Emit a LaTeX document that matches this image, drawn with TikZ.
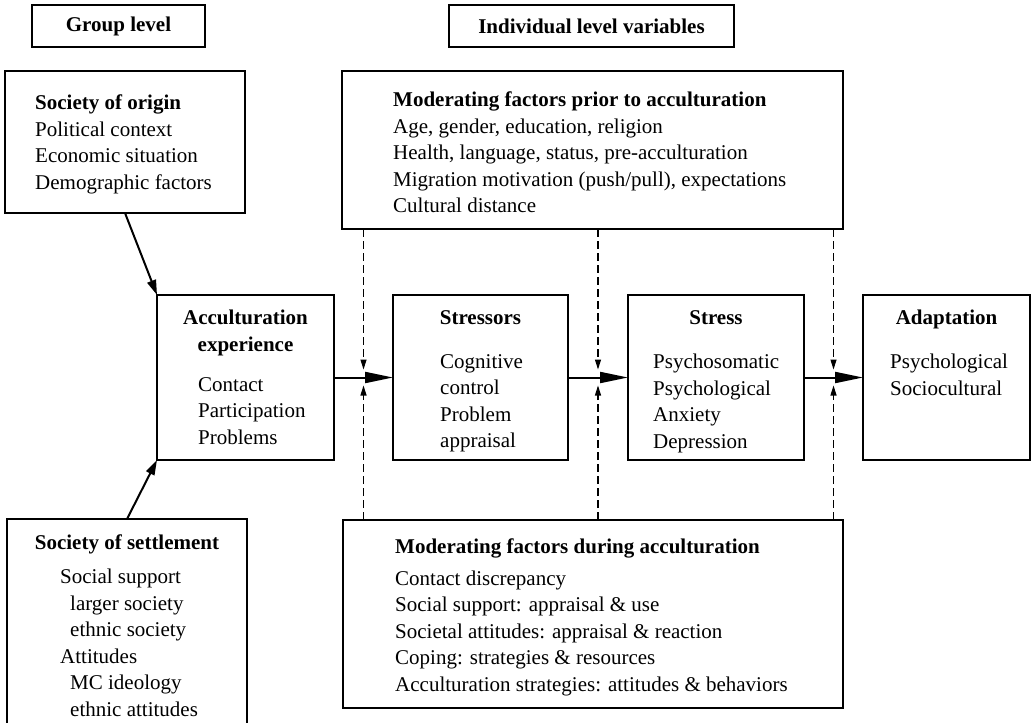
\documentclass[tikz,border=0pt]{standalone}
\usepackage{fontspec}
\setmainfont{Liberation Serif}
\usetikzlibrary{arrows.meta,positioning,calc}

\tikzset{
  box/.style={draw, line width=1.2pt, inner sep=0pt, outer sep=0pt},
  txt/.style={inner sep=0pt, align=left, font=\fontsize{21}{26.5}\selectfont},
  ttl/.style={inner sep=0pt, align=center, font=\fontsize{21}{27}\selectfont\bfseries},
  flow/.style={line width=2pt, -{Triangle[length=28pt,width=11pt]}},
  feed/.style={line width=2pt, -{Triangle[length=15pt,width=9pt]}},
  modarr/.style={line width=1.1pt, dash pattern=on 8pt off 4pt, -{Triangle[length=10pt,width=6pt]}},
}

\begin{document}
\begin{tikzpicture}[x=1pt, y=-1pt]
    \useasboundingbox (0,0) rectangle (1032,722);

    % headings
    \node[box, ttl, minimum width=173pt, minimum height=42pt] (grp) at (118.5,26) {Group level};
    \node[box, ttl, minimum width=285pt, minimum height=42pt] (indiv) at (591.5,26) {Individual level variables};

    % group level
    \node[box, minimum width=240pt, minimum height=142pt] (origin) at (125,142) {};
    \node[txt, below right=24pt and 30pt of origin.north west] (origin-t)
      {\textbf{Society of origin}\\Political context\\Economic situation\\Demographic factors};

    \node[box, minimum width=240pt, minimum height=216pt] (settle) at (127,627) {};
    \node[ttl, below=16pt of settle.north] (settle-t) {Society of settlement};
    \node[txt, below right=50pt and 53pt of settle.north west] (settle-i)
      {Social support\\\hspace*{10pt}larger society\\\hspace*{10pt}ethnic society\\Attitudes\\\hspace*{10pt}MC ideology\\\hspace*{10pt}ethnic attitudes};

    % moderators
    \node[box, minimum width=501pt, minimum height=158pt] (prior) at (592.5,150) {};
    \node[txt, below right=21pt and 51pt of prior.north west] (prior-t)
      {\textbf{Moderating factors prior to acculturation}\\Age, gender, education, religion\\Health, language, status, pre-acculturation\\Migration motivation (push/pull), expectations\\Cultural distance};

    \node[box, minimum width=500pt, minimum height=188pt] (during) at (593,614) {};
    \node[txt, below right=19pt and 52pt of during.north west] (during-t)
      {\textbf{Moderating factors during acculturation}\\[5pt]Contact discrepancy\\Social support: appraisal \& use\\Societal attitudes: appraisal \& reaction\\Coping: strategies \& resources\\Acculturation strategies: attitudes \& behaviors};

    % main row
    \node[box, minimum width=177pt, minimum height=165pt] (accult) at (245.5,377.5) {};
    \node[box, minimum width=175pt, minimum height=165pt, right=59pt of accult] (stressors) {};
    \node[box, minimum width=176pt, minimum height=165pt, right=60pt of stressors] (stress) {};
    \node[box, minimum width=167pt, minimum height=165pt, right=59pt of stress] (adapt) {};

    \node[ttl, below=15pt of accult.north] (accult-t) {Acculturation\\experience};
    \node[txt, below right=82pt and 41pt of accult.north west] (accult-i) {Contact\\Participation\\Problems};
    \node[ttl, below=15pt of stressors.north] (stressors-t) {Stressors};
    \node[txt, below right=59pt and 47pt of stressors.north west] (stressors-i) {Cognitive\\control\\Problem\\appraisal};
    \node[ttl, below=15pt of stress.north] (stress-t) {Stress};
    \node[txt, below right=59pt and 25pt of stress.north west] (stress-i) {Psychosomatic\\Psychological\\Anxiety\\Depression};
    \node[ttl, below=15pt of adapt.north] (adapt-t) {Adaptation};
    \node[txt, below right=59pt and 27pt of adapt.north west] (adapt-i) {Psychological\\Sociocultural};

    % arrows
    \draw[feed] (origin.south) -- (accult.north west);
    \draw[feed] (settle.north) -- (accult.south west);
    \draw[flow] (accult) -- (stressors);
    \draw[flow] (stressors) -- (stress);
    \draw[flow] (stress) -- (adapt);

    \coordinate (m1) at ($(accult.east)!0.5!(stressors.west)$);
    \coordinate (m2) at ($(stressors.east)!0.5!(stress.west)$);
    \coordinate (m3) at ($(stress.east)!0.5!(adapt.west)$);
    \foreach \m in {m1,m2,m3} {
      \draw[modarr] (prior.south -| \m) -- ([yshift=8pt]\m);
      \draw[modarr] (during.north -| \m) -- ([yshift=-8pt]\m);
    }
\end{tikzpicture}
\end{document}
